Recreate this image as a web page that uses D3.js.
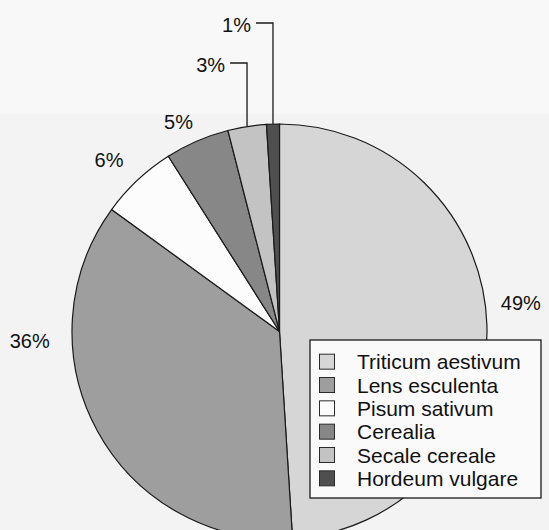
<!DOCTYPE html>
<html>
<head>
<meta charset="utf-8">
<script src="https://cdn.jsdelivr.net/npm/d3@7"></script>
<style>
  body { margin: 0; background: #f6f6f6; }
  svg { display: block; font-family: "Liberation Sans", Arial, sans-serif; }
</style>
</head>
<body>
<div id="chart"></div>
<script>
// chart data
var species = ["Triticum aestivum", "Lens esculenta", "Pisum sativum", "Cerealia", "Secale cereale", "Hordeum vulgare"];
var shares = [49, 36, 6, 5, 3, 1];
var labels = ["49%", "36%", "6%", "5%", "3%", "1%"];

var width = 549;
var height = 530;
var cx = 279.5, cy = 331.5, radius = 207.5;

// fill colours of the scanned greys
var fills = ["#d6d6d6", "#9e9e9e", "#fcfcfc", "#878787", "#c3c3c3", "#4f4f4f"];

// where the label sits: angle (deg, clockwise from top) and distance from centre
var labelSpots = [
    { angle: 83.3, r: 243 },
    { angle: 267.8, r: 250 },
    { angle: 315.2, r: 242 },
    { angle: 334.3, r: 233 },
    { leader: 268.5 },   // leader lines rise above the pie by this much from centre
    { leader: 308.5 }
];

var svg = d3.select("#chart")
    .append("svg")
    .attr("width", width)
    .attr("height", height);

// paper background, top strip a bit whiter
svg.append("rect")
    .attr("width", width).attr("height", height)
    .attr("fill", "#f3f3f3");
svg.append("rect")
    .attr("width", width).attr("height", 114)
    .attr("fill", "#f8f8f8");

var color = d3.scaleOrdinal().domain(species).range(fills);

var data = species.map(function(s, i) {
    return { name: s, value: shares[i], label: labels[i], spot: labelSpots[i] };
});

var pie = d3.pie()
    .value(function(d) { return d.value; })
    .sort(null);

var arc = d3.arc().innerRadius(0).outerRadius(radius);

var g = svg.append("g")
    .attr("transform", "translate(" + cx + "," + cy + ")");

var arcs = pie(data);

g.selectAll("path.slice")
    .data(arcs)
    .enter()
    .append("path")
    .attr("class", "slice")
    .attr("d", arc)
    .attr("fill", function(d) { return color(d.data.name); })
    .attr("stroke", "#1a1a1a")
    .attr("stroke-width", 1.2);

function polar(angleDeg, r) {
    var a = angleDeg * Math.PI / 180;
    return [r * Math.sin(a), -r * Math.cos(a)];
}

// plain labels
arcs.filter(function(d) { return d.data.spot.angle !== undefined; }).forEach(function(d) {
    var p = polar(d.data.spot.angle, d.data.spot.r);
    g.append("text")
        .attr("x", p[0])
        .attr("y", p[1])
        .attr("text-anchor", "middle")
        .attr("dominant-baseline", "central")
        .attr("font-size", "20px")
        .attr("fill", "#111")
        .text(d.data.label);
});

// labels with leader lines (small slices)
arcs.filter(function(d) { return d.data.spot.leader !== undefined; }).forEach(function(d) {
    var mid = (d.startAngle + d.endAngle) / 2;
    var x = radius * Math.sin(mid);
    var yEdge = -radius * Math.cos(mid);
    var yTop = -d.data.spot.leader;
    g.append("path")
        .attr("d", "M" + x + "," + yEdge + "V" + yTop + "H" + (x - 17))
        .attr("fill", "none")
        .attr("stroke", "#1a1a1a")
        .attr("stroke-width", 1.3);
    g.append("text")
        .attr("x", x - 22)
        .attr("y", yTop + 2)
        .attr("text-anchor", "end")
        .attr("dominant-baseline", "central")
        .attr("font-size", "20px")
        .attr("fill", "#111")
        .text(d.data.label);
});

// legend
var legend = svg.append("g")
    .attr("transform", "translate(310,340)");

legend.append("rect")
    .attr("width", 231)
    .attr("height", 158)
    .attr("fill", "#fafafa")
    .attr("stroke", "#1a1a1a")
    .attr("stroke-width", 1.3);

var rowY = d3.scaleBand()
    .domain(species)
    .range([10, 150]);

var rows = legend.selectAll("g.row")
    .data(species)
    .enter()
    .append("g")
    .attr("class", "row")
    .attr("transform", function(d) { return "translate(0," + (rowY(d) + rowY.bandwidth() / 2) + ")"; });

rows.append("rect")
    .attr("x", 9.5)
    .attr("y", -7.5)
    .attr("width", 15)
    .attr("height", 15)
    .attr("fill", function(d) { return color(d); })
    .attr("stroke", "#2a2a2a")
    .attr("stroke-width", 1);

rows.append("text")
    .attr("x", 47)
    .attr("y", 0)
    .attr("dominant-baseline", "central")
    .attr("font-size", "21px")
    .attr("fill", "#111")
    .text(function(d) { return d; });
</script>
</body>
</html>
